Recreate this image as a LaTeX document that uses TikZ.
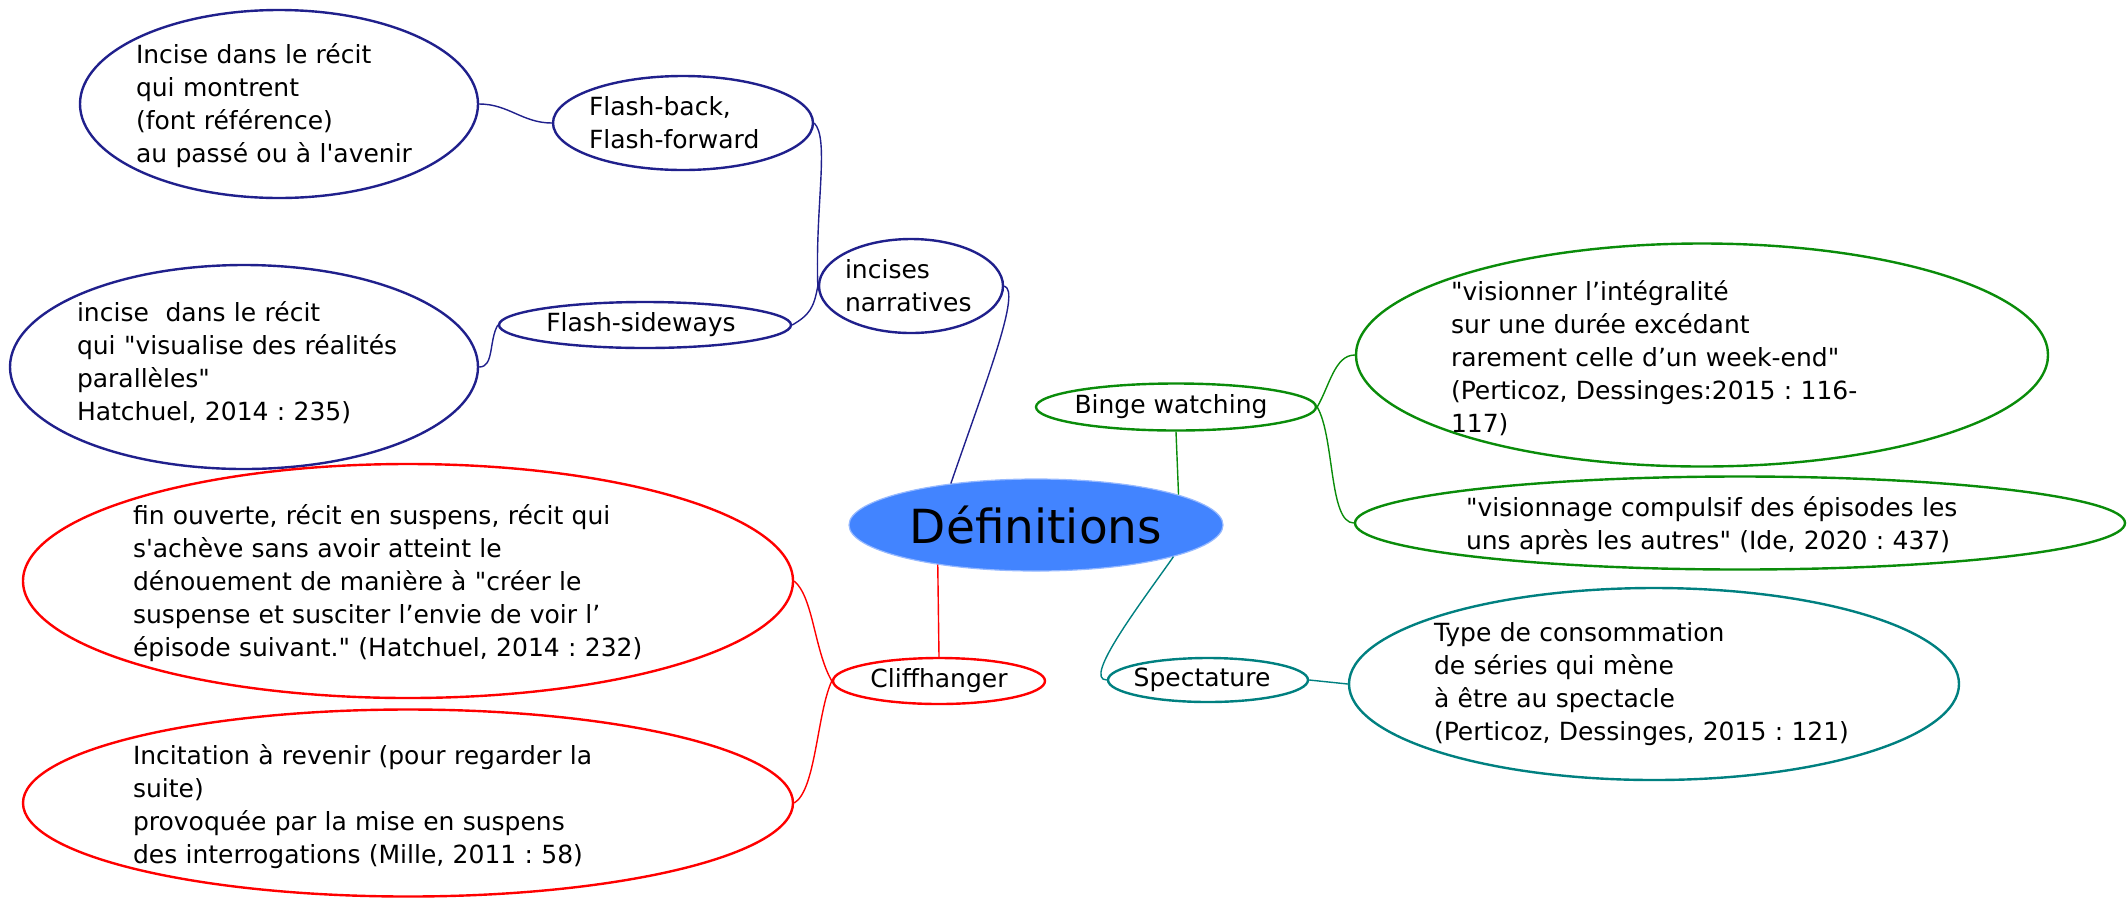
\documentclass[tikz,border=0pt]{standalone}
\usepackage{fontspec}
\setmainfont{DejaVu Sans}
\usetikzlibrary{shapes.geometric}
\definecolor{navyc}{RGB}{32,32,140}
\definecolor{greenc}{RGB}{10,140,10}
\definecolor{tealc}{RGB}{0,128,128}
\definecolor{redc}{RGB}{255,0,0}
\definecolor{deffill}{RGB}{66,132,255}
\definecolor{defline}{RGB}{150,185,255}
\newcommand{\dq}{\textquotedbl}
\begin{document}
\begin{tikzpicture}[x=1pt,y=-1pt,
  ell/.style={ellipse, line width=2.4pt, inner sep=0pt, fill=white},
  txt/.style={align=left, inner sep=0pt, text=black, font=\fontsize{25}{33}\selectfont\frenchspacing},
  lbl/.style={inner sep=0pt, text=black, font=\fontsize{25}{33}\selectfont},
  conn/.style={line width=1.4pt}]
\useasboundingbox (0,0) rectangle (2127,898);

% --- navy branch
\node[ell, draw=navyc, minimum width=398pt, minimum height=188pt] (fbd) at (279,104) {};
\node[txt, text width=286pt] (fbdt) at (279,106) {Incise dans le récit\\qui montrent\\(font référence)\\au passé ou à l\textquotesingle avenir};
\node[ell, draw=navyc, minimum width=260pt, minimum height=94pt] (fb) at (683,123) {};
\node[txt, text width=188pt] (fbt) at (fb) {Flash-back,\\Flash-forward};
\node[ell, draw=navyc, minimum width=184pt, minimum height=94pt] (inc) at (911,286) {};
\node[txt, text width=132pt] (inct) at (inc) {incises\\narratives};
\node[ell, draw=navyc, minimum width=292pt, minimum height=46pt] (fs) at (645,325) {};
\node[lbl] (fst) at (641,325) {Flash-sideways};
\node[ell, draw=navyc, minimum width=468pt, minimum height=204pt] (fsd) at (244,367) {};
\node[txt, text width=334pt] (fsdt) at (244,363) {incise\ \ dans le récit\\qui \dq visualise des réalités\\parallèles\dq\\Hatchuel, 2014 : 235)};

% --- centre
\node[ellipse, fill=deffill, draw=defline, line width=1.2pt, minimum width=374pt, minimum height=92pt, inner sep=0pt, font=\fontsize{47}{50}\selectfont] (def) at (1036,525) {Définitions};

% --- green branch
\node[ell, draw=greenc, minimum width=280pt, minimum height=47pt] (bw) at (1176,407) {};
\node[lbl] (bwt) at (1171,407) {Binge watching};
\node[ell, draw=greenc, minimum width=692pt, minimum height=223pt] (bw1) at (1702,355) {};
\node[txt, text width=502pt] (bw1t) at (1702,358) {\dq visionner l’intégralité\\sur une durée excédant\\rarement celle d’un week-end\dq\\(Perticoz, Dessinges:2015 : 116-\\117)};
\node[ell, draw=greenc, minimum width=770pt, minimum height=93pt] (bw2) at (1740,523) {};
\node[txt, text width=548pt] (bw2t) at (1740,526) {\dq visionnage compulsif des épisodes les\\uns après les autres\dq\ (Ide, 2020 : 437)};

% --- teal branch
\node[ell, draw=tealc, minimum width=200pt, minimum height=44pt] (sp) at (1208,680) {};
\node[lbl] (spt) at (1202,680) {Spectature};
\node[ell, draw=tealc, minimum width=610pt, minimum height=192pt] (sp1) at (1654,684) {};
\node[txt, text width=440pt] (sp1t) at (sp1) {Type de consommation\\de séries qui mène\\à être au spectacle\\(Perticoz, Dessinges, 2015 : 121)};

% --- red branch
\node[ell, draw=redc, minimum width=212pt, minimum height=46pt] (cl) at (939,681) {};
\node[lbl] (clt) at (cl) {Cliffhanger};
\node[ell, draw=redc, minimum width=770pt, minimum height=234pt] (cl1) at (408,581) {};
\node[txt, text width=550pt] (cl1t) at (408,583) {fin ouverte, récit en suspens, récit qui\\s\textquotesingle achève sans avoir atteint le\\dénouement de manière à \dq créer le\\suspense et susciter l’envie de voir l’\\épisode suivant.\dq\ (Hatchuel, 2014 : 232)};
\node[ell, draw=redc, minimum width=770pt, minimum height=187pt] (cl2) at (408,803) {};
\node[txt, text width=550pt] (cl2t) at (408,807) {Incitation à revenir (pour regarder la\\suite)\\provoquée par la mise en suspens\\des interrogations (Mille, 2011 : 58)};

% --- connectors
\draw[conn, navyc] (inc.east) to[out=-15, in=71, out distance=18pt, in distance=110pt] (def.154);
\draw[conn, navyc] (inc.west) to[out=92, in=-45, out distance=80pt, in distance=22pt] (fb.east);
\draw[conn, navyc] (inc.west) to[out=-100, in=30, out distance=22pt, in distance=20pt] (fs.east);
\draw[conn, navyc] (fb.west) to[out=180, in=0] (fbd.east);
\draw[conn, navyc] (fs.west) to[out=-120, in=0, out distance=18pt, in distance=15pt] (fsd.east);

\draw[conn, greenc] (bw.south) -- (def.12);
\draw[conn, greenc] (bw.east) to[out=60, in=180, out distance=25pt, in distance=20pt] (bw1.west);
\draw[conn, greenc] (bw.east) to[out=-60, in=180, out distance=35pt, in distance=25pt] (bw2.west);

\draw[conn, tealc] (def.-13) to[out=-125, in=180, out distance=55pt, in distance=25pt] (sp.west);
\draw[conn, tealc] (sp.east) -- (sp1.west);

\draw[conn, redc] (def.-158) -- (cl.north);
\draw[conn, redc] (cl.west) to[out=120, in=-40, out distance=35pt, in distance=25pt] (cl1.east);
\draw[conn, redc] (cl.west) to[out=-115, in=30, out distance=35pt, in distance=25pt] (cl2.east);
\end{tikzpicture}
\end{document}
